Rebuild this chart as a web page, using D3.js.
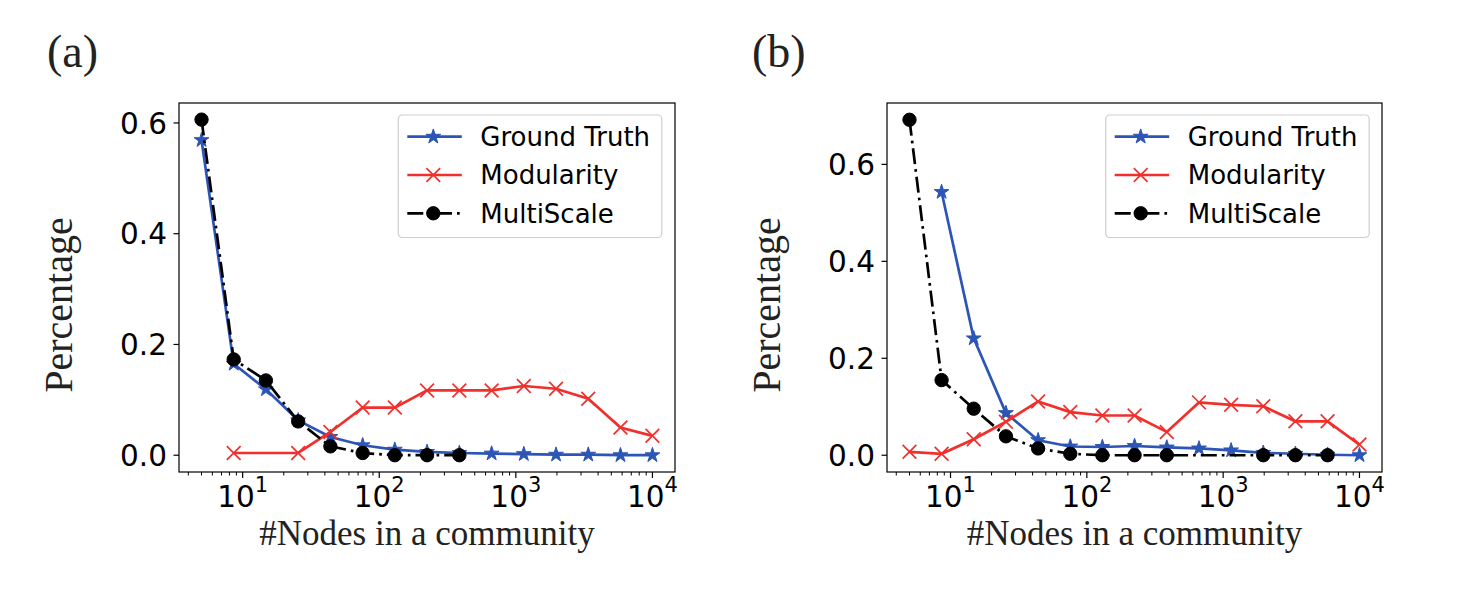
<!DOCTYPE html>
<html>
<head>
<meta charset="utf-8">
<script src="https://cdn.jsdelivr.net/npm/d3@7"></script>
<style>
  body { margin: 0; background: #fff; }
  svg { display: block; }
</style>
</head>
<body>
<svg id="chart" width="1469" height="598"></svg>
<script>
// community size bins (x) shared by both panels
var sizes = [5, 8.6, 14.8, 25.5, 43.9, 75.6, 130, 224, 386, 665, 1144, 1969, 3390, 5835, 10000];

// panel (a)
var truthA = [0.569, 0.165, 0.119, 0.063, 0.033, 0.018, 0.010, 0.006, 0.004, 0.003, 0.002, 0.001, 0.001, 0.0, 0.0];
var modA   = [null, 0.004, null, 0.004, 0.042, 0.086, 0.086, 0.117, 0.117, 0.117, 0.125, 0.120, 0.102, 0.050, 0.035];
var multiA = [0.606, 0.173, 0.135, 0.061, 0.016, 0.004, 0.0, 0.0, 0.0, null, null, null, null, null, null];

// panel (b)
var truthB = [null, 0.543, 0.241, 0.087, 0.031, 0.018, 0.017, 0.019, 0.016, 0.014, 0.010, 0.005, 0.003, 0.001, 0.0];
var modB   = [0.007, 0.003, 0.033, 0.069, 0.111, 0.089, 0.082, 0.082, 0.048, 0.109, 0.104, 0.101, 0.070, 0.070, 0.022];
var multiB = [0.692, 0.155, 0.096, 0.039, 0.014, 0.003, 0.0, 0.0, 0.0, null, null, 0.0, 0.0, 0.0, null];

var seriesNames = ["Ground Truth", "Modularity", "MultiScale"];
var yTicks = [0, 0.2, 0.4, 0.6];
var xTicks = [10, 100, 1000, 10000];
var xTickExp = ["1", "2", "3", "4"];

var blue = "#2c55b5", red = "#f0302c", black = "#000";
var sans = "'DejaVu Sans', sans-serif";
var serif = "'Liberation Serif', 'Times New Roman', serif";

var svg = d3.select("#chart");

function drawPanel(opt) {
  var x = d3.scaleLog().domain([3.42, 14630]).range([opt.left, opt.right]);
  var y = d3.scaleLinear().domain(opt.yDomain).range([472, 103]);
  var g = svg.append("g");

  // minor ticks
  var minors = [];
  [1, 10, 100, 1000, 10000].forEach(function (dec) {
    for (var k = 2; k <= 9; k++) {
      var v = dec * k;
      if (v > x.domain()[0] && v < x.domain()[1]) minors.push(v);
    }
  });
  g.selectAll(".minor").data(minors).enter().append("line")
    .attr("x1", function (d) { return x(d); }).attr("x2", function (d) { return x(d); })
    .attr("y1", 472).attr("y2", 475.5)
    .attr("stroke", "#000").attr("stroke-width", 1);

  g.selectAll(".major").data(xTicks).enter().append("line")
    .attr("x1", function (d) { return x(d); }).attr("x2", function (d) { return x(d); })
    .attr("y1", 472).attr("y2", 478)
    .attr("stroke", "#000").attr("stroke-width", 1.2);

  var xl = g.selectAll(".xl").data(xTicks).enter().append("text")
    .attr("x", function (d) { return x(d); }).attr("y", 506.5)
    .attr("text-anchor", "middle")
    .style("font-family", sans).style("font-size", "29.5px");
  xl.append("tspan").text("10");
  xl.append("tspan").attr("dy", -15).style("font-size", "21px")
    .text(function (d, i) { return xTickExp[i]; });

  g.selectAll(".yt").data(yTicks).enter().append("line")
    .attr("x1", opt.left - 5.5).attr("x2", opt.left)
    .attr("y1", function (d) { return y(d); }).attr("y2", function (d) { return y(d); })
    .attr("stroke", "#000").attr("stroke-width", 1.2);

  g.selectAll(".yl").data(yTicks).enter().append("text")
    .attr("x", opt.left - 12).attr("y", function (d) { return y(d); })
    .attr("dy", "0.36em").attr("text-anchor", "end")
    .style("font-family", sans).style("font-size", "29.5px")
    .text(d3.format(".1f"));

  // series
  var series = [
    { name: seriesNames[0], vals: opt.truth, color: blue, marker: "star", dash: null },
    { name: seriesNames[1], vals: opt.mod, color: red, marker: "x", dash: null },
    { name: seriesNames[2], vals: opt.multi, color: black, marker: "circle", dash: "16,5,2.7,5" }
  ];

  var clip = "clip" + opt.id;
  svg.append("clipPath").attr("id", clip).append("rect")
    .attr("x", opt.left).attr("y", 103).attr("width", opt.right - opt.left).attr("height", 369);

  var line = d3.line().x(function (d) { return x(d[0]); }).y(function (d) { return y(d[1]); });

  function markerPath(type) {
    if (type === "star") return d3.symbol(d3.symbolStar, 68)();
    if (type === "x") return d3.symbol(d3.symbolX, 125)();
    return d3.symbol(d3.symbolCircle, 140)();
  }
  function styleMarker(sel, s) {
    if (s.marker === "x") sel.attr("fill", "none").attr("stroke", s.color).attr("stroke-width", 1.7);
    else sel.attr("fill", s.color).attr("stroke", s.color).attr("stroke-width", 1);
  }

  var plot = g.append("g").attr("clip-path", "url(#" + clip + ")");
  series.forEach(function (s) {
    var pts = sizes.map(function (v, i) { return [v, s.vals[i]]; })
      .filter(function (d) { return d[1] !== null; });
    plot.append("path").datum(pts).attr("d", line)
      .attr("fill", "none").attr("stroke", s.color).attr("stroke-width", 2.7)
      .attr("stroke-dasharray", s.dash);
    var m = plot.selectAll(null).data(pts).enter().append("path")
      .attr("transform", function (d) { return "translate(" + x(d[0]) + "," + y(d[1]) + ")"; })
      .attr("d", markerPath(s.marker));
    styleMarker(m, s);
  });

  // frame
  g.append("rect").attr("x", opt.left).attr("y", 103)
    .attr("width", opt.right - opt.left).attr("height", 369)
    .attr("fill", "none").attr("stroke", "#000").attr("stroke-width", 1.2);

  // legend
  var lg = g.append("g").attr("transform", "translate(" + opt.legX + ",115)");
  lg.append("rect").attr("width", 263.5).attr("height", 122.5).attr("rx", 4)
    .attr("fill", "#fff").attr("fill-opacity", 0.8).attr("stroke", "#cfcfcf").attr("stroke-width", 1.2);
  series.forEach(function (s, i) {
    var ry = 21.7 + i * 38.3;
    lg.append("line").attr("x1", 9).attr("x2", 63.5).attr("y1", ry).attr("y2", ry)
      .attr("stroke", s.color).attr("stroke-width", 2.7).attr("stroke-dasharray", s.dash);
    var m = lg.append("path").attr("transform", "translate(35," + ry + ")").attr("d", markerPath(s.marker));
    styleMarker(m, s);
    lg.append("text").attr("x", 82).attr("y", ry).attr("dy", "0.36em")
      .style("font-family", sans).style("font-size", "26px").text(s.name);
  });

  // axis titles
  g.append("text").attr("x", (opt.left + opt.right) / 2).attr("y", 545)
    .attr("text-anchor", "middle").style("font-family", serif).style("font-size", "35px")
    .attr("fill", "#222").text("#Nodes in a community");
  g.append("text").attr("transform", "translate(" + (opt.left - 107) + ",305) rotate(-90)")
    .attr("text-anchor", "middle").style("font-family", serif).style("font-size", "40px")
    .attr("fill", "#222").text("Percentage");

  g.append("text").attr("x", opt.labelX).attr("y", 67)
    .style("font-family", serif).style("font-size", "46px").attr("fill", "#222").text(opt.label);
}

drawPanel({ id: "a", left: 179, right: 675, yDomain: [-0.0303, 0.636],
  truth: truthA, mod: modA, multi: multiA, legX: 398.3, label: "(a)", labelX: 47 });
drawPanel({ id: "b", left: 887, right: 1382, yDomain: [-0.0346, 0.7266],
  truth: truthB, mod: modB, multi: multiB, legX: 1105.7, label: "(b)", labelX: 752 });
</script>
</body>
</html>
